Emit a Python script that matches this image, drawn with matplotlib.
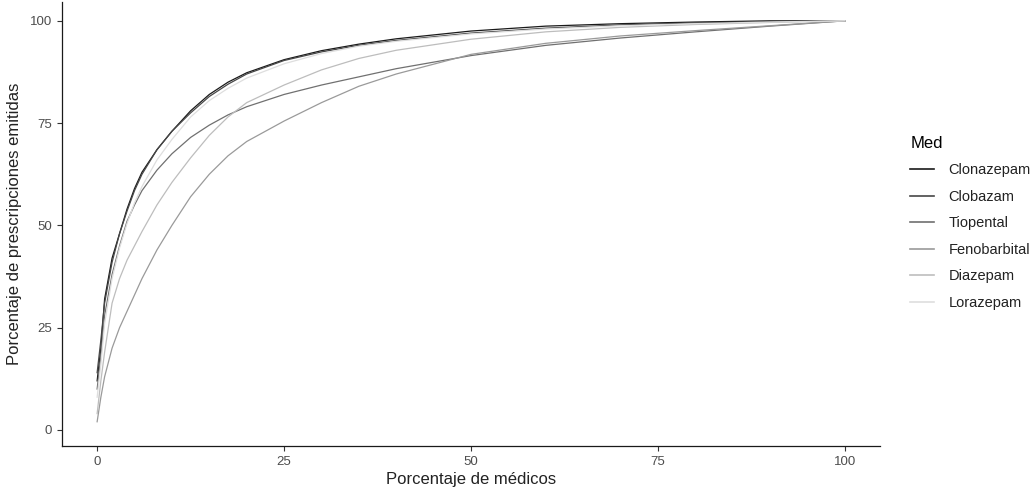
import numpy as np
import matplotlib
matplotlib.use("Agg")
import matplotlib.pyplot as plt

plt.rcParams["font.family"] = ["Liberation Sans", "DejaVu Sans"]

# Porcentaje de médicos (x) and cumulative % of prescriptions per drug (y)
meds = ["Clonazepam", "Clobazam", "Tiopental", "Fenobarbital", "Diazepam", "Lorazepam"]

x_pts = [0, 0.5, 1, 2, 3, 4, 5, 6, 8, 10, 12.5, 15, 17.5, 20, 25, 30, 35, 40, 50, 60, 70, 80, 90, 100]

clonazepam = [12, 20, 32, 42, 48, 54, 59, 63, 68.5, 73, 78, 82, 85, 87.3, 90.5, 92.7, 94.3, 95.6, 97.5, 98.7, 99.3, 99.7, 100, 100]
clobazam = [14, 22, 31, 41, 48, 53.5, 58.5, 62.5, 68.5, 73, 77.5, 81.5, 84.5, 87, 90.3, 92.4, 94, 95.2, 97, 98.2, 99, 99.5, 99.8, 100]
tiopental = [10, 18, 28, 38, 45, 51, 55, 58.5, 63.5, 67.5, 71.5, 74.5, 77, 79, 82, 84.3, 86.3, 88.3, 91.5, 94, 95.8, 97.3, 98.7, 100]
fenobarbital = [2, 8, 13, 20, 25, 29, 33, 37, 44, 50, 57, 62.5, 67, 70.5, 75.5, 80, 84, 87, 91.8, 94.5, 96.3, 97.6, 98.8, 100]
diazepam = [4, 12, 19, 31, 37, 41.5, 45, 48.5, 55, 60.5, 66.5, 72, 76.5, 80, 84.3, 88, 90.8, 92.8, 95.5, 97.3, 98.4, 99.1, 99.6, 100]
lorazepam = [8, 16, 26, 37, 44.5, 50.5, 55.5, 59.5, 66, 71, 76.5, 80.5, 83.5, 86, 89.5, 92, 93.8, 95, 96.8, 98, 98.8, 99.3, 99.7, 100]

series = [clonazepam, clobazam, tiopental, fenobarbital, diazepam, lorazepam]
colors = ["#1a1a1a", "#474747", "#707070", "#9a9a9a", "#bdbdbd", "#dedede"]

fig = plt.figure(figsize=(10.33, 4.96), dpi=100)
ax = fig.add_axes([0.060, 0.101, 0.792, 0.895])

for name, y, c in zip(meds, series, colors):
    ax.plot(x_pts, y, color=c, linewidth=0.9, label=name)

ax.set_xlim(-4.7, 104.7)
ax.set_ylim(-3.9, 104.6)
ax.set_xticks([0, 25, 50, 75, 100])
ax.set_yticks([0, 25, 50, 75, 100])
ax.tick_params(axis="both", colors="#333333", labelcolor="#4d4d4d", labelsize=9.5,
               length=3.5, width=0.8)

for s in ["top", "right"]:
    ax.spines[s].set_visible(False)
for s in ["left", "bottom"]:
    ax.spines[s].set_color("#1a1a1a")
    ax.spines[s].set_linewidth(0.9)

ax.set_xlabel("Porcentaje de médicos", fontsize=12, color="#222222", labelpad=3)
ax.set_ylabel("Porcentaje de prescripciones emitidas", fontsize=12, color="#222222", labelpad=6)

leg = ax.legend(title="Med", loc="upper left", bbox_to_anchor=(1.030, 0.712),
                frameon=False, fontsize=10.5, title_fontsize=12,
                handlelength=1.6, handletextpad=1.0, labelspacing=0.86,
                borderaxespad=0)
leg._legend_box.align = "left"
for line in leg.get_lines():
    line.set_linewidth(1.2)
for t in leg.get_texts():
    t.set_color("#222222")

fig.savefig("out.png", dpi=100, facecolor="white")
